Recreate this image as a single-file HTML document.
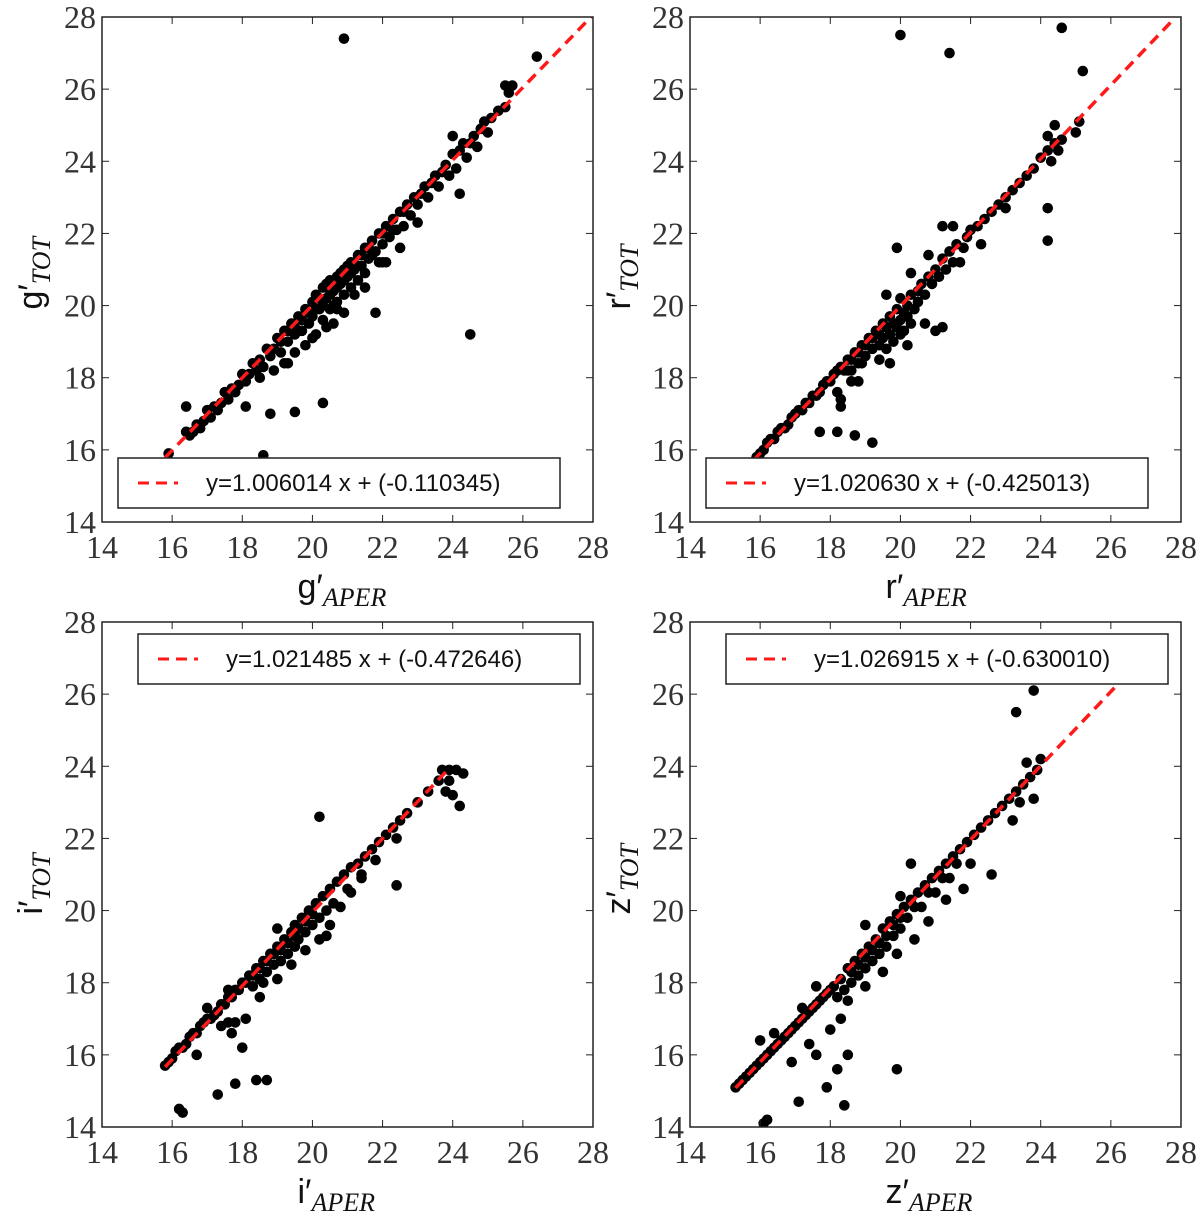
<!DOCTYPE html>
<html><head><meta charset="utf-8"><style>
body{margin:0;background:#fff;}
</style></head><body>
<svg id="fig" width="1200" height="1218" xmlns="http://www.w3.org/2000/svg"></svg>
<script>
// ---- data ----
const xTicks=[14,16,18,20,22,24,26,28];
const yTicks=[14,16,18,20,22,24,26,28];
const fitG=[1.006014,-0.110345], fitR=[1.020630,-0.425013], fitI=[1.021485,-0.472646], fitZ=[1.026915,-0.630010];
const rangeG=[15.8,28.0], rangeR=[15.8,27.8], rangeI=[15.8,23.8], rangeZ=[15.3,26.8];
const labelG="y=1.006014 x + (-0.110345)", labelR="y=1.020630 x + (-0.425013)", labelI="y=1.021485 x + (-0.472646)", labelZ="y=1.026915 x + (-0.630010)";
const gPts=[[15.9,15.9],[16.4,16.5],[16.5,16.4],[16.6,16.5],[16.7,16.7],[16.8,16.6],[16.9,16.8],[17.0,17.1],[17.1,16.9],[17.2,17.2],[17.3,17.1],[17.4,17.3],[17.5,17.6],[17.6,17.4],[17.7,17.7],[17.8,17.6],[17.9,17.8],[18.0,18.1],[18.1,17.9],[18.2,18.1],[18.3,18.4],[18.4,18.2],[18.5,18.5],[18.6,18.3],[18.7,18.8],[18.8,18.6],[18.9,18.8],[19.0,19.1],[19.1,18.7],[19.1,19.0],[19.2,19.3],[19.3,19.0],[19.3,19.3],[19.4,19.5],[19.5,19.2],[19.5,19.4],[19.6,19.7],[19.7,19.3],[19.7,19.6],[19.8,19.9],[19.9,19.5],[19.9,19.8],[20.0,20.1],[20.0,19.7],[20.1,20.3],[20.1,19.9],[20.2,19.9],[20.2,20.2],[20.3,20.5],[20.3,19.6],[20.3,20.0],[20.4,20.2],[20.4,20.6],[20.5,20.7],[20.5,19.9],[20.5,20.3],[20.6,20.4],[20.6,20.0],[20.7,20.8],[20.7,20.1],[20.7,20.5],[20.8,20.6],[20.8,20.9],[20.9,21.0],[20.9,20.3],[20.9,20.7],[21.0,20.8],[21.0,21.1],[21.1,21.2],[21.1,20.5],[21.1,20.9],[21.2,21.0],[21.3,21.4],[21.3,21.1],[21.4,21.1],[21.4,21.4],[21.5,21.6],[21.5,20.9],[21.6,21.3],[21.6,21.6],[21.7,21.8],[21.7,21.4],[21.8,21.5],[21.9,22.0],[21.9,21.2],[22.0,21.7],[22.0,22.0],[22.1,22.2],[22.2,21.9],[22.3,22.4],[22.3,22.1],[22.4,22.1],[22.5,22.6],[22.6,22.2],[22.6,22.6],[22.7,22.8],[22.8,22.5],[22.9,23.0],[23.0,22.8],[23.1,23.1],[23.2,23.3],[23.3,23.0],[23.4,23.4],[23.5,23.6],[23.6,23.3],[23.7,23.7],[23.8,23.9],[23.9,23.6],[24.0,24.2],[24.1,23.8],[24.2,24.3],[24.3,24.5],[24.4,24.1],[24.5,24.5],[24.6,24.7],[24.7,24.4],[24.8,24.9],[24.9,25.1],[25.0,24.8],[25.3,25.4],[25.5,25.5],[25.6,25.9],[18.5,18.0],[18.9,18.2],[19.2,18.4],[19.5,18.7],[19.8,18.9],[20.1,19.2],[20.4,19.4],[20.6,19.5],[20.9,19.8],[21.2,20.3],[21.5,20.5],[21.8,19.8],[22.1,21.2],[22.5,21.6],[23.0,22.3],[17.6,17.4],[18.1,17.2],[18.8,17.0],[19.5,17.05],[20.3,17.3],[18.6,15.85],[16.4,17.2],[20.9,27.4],[26.4,26.9],[24.5,19.2],[24.2,23.1],[25.7,26.1],[25.5,26.1],[25.1,25.2],[24.0,24.7],[19.3,18.4],[20.0,19.1],[20.7,19.9],[21.3,20.7],[22.0,21.2]];
const rPts=[[15.9,15.8],[16.0,15.9],[16.1,16.0],[16.2,16.2],[16.3,16.3],[16.4,16.3],[16.5,16.5],[16.6,16.6],[16.7,16.6],[16.8,16.7],[16.9,16.9],[17.0,17.0],[17.1,17.1],[17.2,17.1],[17.3,17.3],[17.4,17.3],[17.5,17.5],[17.6,17.5],[17.7,17.6],[17.8,17.8],[17.9,17.9],[18.0,17.9],[18.1,18.1],[18.2,18.2],[18.3,18.3],[18.4,18.2],[18.5,18.5],[18.6,18.2],[18.6,18.5],[18.7,18.7],[18.8,18.4],[18.8,18.7],[18.9,18.9],[19.0,18.6],[19.0,18.9],[19.1,19.1],[19.2,18.8],[19.2,19.1],[19.3,19.3],[19.4,18.9],[19.4,19.2],[19.5,19.5],[19.5,19.1],[19.6,18.8],[19.6,19.4],[19.7,19.7],[19.7,19.2],[19.8,19.0],[19.8,19.5],[19.9,19.9],[19.9,19.4],[20.0,19.6],[20.0,20.2],[20.0,19.2],[20.1,19.3],[20.1,19.8],[20.2,20.0],[20.2,19.7],[20.3,20.3],[20.3,19.5],[20.4,19.9],[20.5,20.4],[20.5,20.1],[20.6,20.6],[20.7,20.3],[20.8,20.8],[20.9,20.6],[21.0,21.0],[21.1,20.8],[21.2,21.3],[21.3,21.0],[21.4,21.5],[21.5,21.2],[21.6,21.7],[21.8,21.6],[21.9,21.9],[22.0,22.1],[22.2,22.2],[22.4,22.4],[22.6,22.6],[22.8,22.8],[23.0,23.0],[23.2,23.2],[23.4,23.4],[23.6,23.6],[23.8,23.8],[24.0,24.1],[24.2,24.3],[24.3,24.0],[24.4,24.5],[24.2,24.7],[24.4,25.0],[25.1,25.1],[25.0,24.8],[24.6,24.6],[24.5,24.3],[18.3,17.4],[18.9,18.4],[19.4,18.5],[19.7,18.4],[20.2,18.9],[20.7,19.5],[21.2,19.4],[21.0,19.3],[21.7,21.2],[22.3,21.7],[23.0,22.7],[19.9,21.6],[17.7,16.5],[18.2,16.5],[18.7,16.4],[19.2,16.2],[18.3,17.2],[18.2,17.6],[18.5,18.2],[18.8,17.9],[18.6,17.9],[20.0,27.5],[21.4,27.0],[24.6,27.7],[25.2,26.5],[24.2,22.7],[24.2,21.8],[21.2,22.2],[21.5,22.2],[19.6,20.3],[20.3,20.9],[20.8,21.4]];
const iPts=[[15.8,15.7],[15.9,15.8],[16.0,15.9],[16.1,16.1],[16.2,16.2],[16.3,16.2],[16.4,16.3],[16.5,16.5],[16.6,16.6],[16.7,16.6],[16.8,16.8],[16.9,16.9],[17.0,17.0],[17.1,17.0],[17.2,17.1],[17.3,17.2],[17.4,17.4],[17.5,17.4],[17.6,17.6],[17.7,17.6],[17.8,17.8],[17.9,17.8],[18.0,18.0],[18.1,18.0],[18.2,18.2],[18.3,17.9],[18.3,18.2],[18.4,18.4],[18.5,18.1],[18.5,18.4],[18.6,18.6],[18.7,18.3],[18.7,18.6],[18.8,18.8],[18.9,18.5],[18.9,18.8],[19.0,19.0],[19.1,18.6],[19.1,18.9],[19.2,19.2],[19.3,18.8],[19.3,19.1],[19.4,19.4],[19.5,19.0],[19.5,19.6],[19.5,19.3],[19.6,19.2],[19.6,19.5],[19.7,19.8],[19.8,19.4],[19.8,19.7],[19.9,20.0],[20.0,19.6],[20.0,19.9],[20.1,20.2],[20.2,19.8],[20.3,20.4],[20.4,20.0],[20.5,20.6],[20.6,20.2],[20.7,20.8],[20.9,21.0],[21.0,20.6],[21.1,21.2],[21.3,21.3],[21.4,21.0],[21.5,21.5],[21.7,21.7],[21.9,21.9],[22.1,22.1],[22.3,22.3],[22.5,22.5],[22.7,22.7],[23.0,23.0],[23.3,23.3],[23.6,23.6],[23.7,23.9],[23.9,23.9],[24.1,23.9],[24.3,23.8],[23.9,23.6],[24.0,23.2],[24.2,22.9],[23.8,23.3],[18.6,18.0],[19.0,18.1],[19.4,18.5],[19.8,18.9],[20.2,19.2],[20.4,19.3],[20.5,19.6],[20.8,20.1],[21.1,20.5],[21.4,20.9],[21.8,21.4],[17.0,17.3],[17.6,17.8],[18.5,17.6],[19.0,19.5],[20.2,22.6],[22.4,20.7],[22.4,22.0],[16.3,14.4],[16.2,14.5],[17.3,14.9],[17.8,15.2],[18.4,15.3],[18.7,15.3],[18.0,16.2],[16.7,16.0],[17.4,16.8],[17.7,16.6],[17.8,16.9],[18.1,17.0],[17.6,16.9]];
const zPts=[[15.3,15.1],[15.4,15.2],[15.5,15.3],[15.6,15.4],[15.7,15.5],[15.8,15.6],[15.9,15.7],[16.0,15.8],[16.1,15.9],[16.2,16.0],[16.3,16.1],[16.4,16.2],[16.5,16.3],[16.6,16.4],[16.7,16.5],[16.8,16.6],[16.9,16.7],[17.0,16.8],[17.1,16.9],[17.2,17.0],[17.3,17.1],[17.4,17.2],[17.5,17.3],[17.6,17.4],[17.7,17.5],[17.8,17.6],[17.9,17.7],[18.0,17.8],[18.1,17.9],[18.2,17.6],[18.3,18.1],[18.4,17.8],[18.5,18.4],[18.6,18.0],[18.6,18.3],[18.7,18.6],[18.8,18.2],[18.8,18.5],[18.9,18.8],[19.0,18.4],[19.0,18.7],[19.1,19.0],[19.2,18.6],[19.2,18.9],[19.3,19.2],[19.4,18.8],[19.4,19.1],[19.5,19.5],[19.6,19.0],[19.6,19.3],[19.7,19.7],[19.8,19.3],[19.8,19.6],[19.9,19.9],[20.0,19.5],[20.0,19.8],[20.1,20.1],[20.2,19.8],[20.3,20.3],[20.4,20.1],[20.5,20.5],[20.6,20.1],[20.7,20.7],[20.8,20.5],[20.9,20.9],[21.0,20.5],[21.1,21.1],[21.2,20.9],[21.3,21.3],[21.4,20.9],[21.5,21.5],[21.6,21.3],[21.7,21.7],[21.9,21.9],[22.1,22.1],[22.3,22.3],[22.5,22.5],[22.7,22.7],[22.9,22.9],[23.1,23.1],[23.3,23.3],[23.5,23.5],[23.7,23.7],[23.9,23.9],[23.6,24.1],[23.8,23.1],[23.4,23.0],[23.2,22.5],[24.0,24.2],[18.5,17.5],[19.0,17.9],[19.5,18.3],[19.9,18.8],[20.4,19.2],[20.8,19.7],[21.3,20.3],[21.8,20.6],[22.6,21.0],[22.0,21.3],[17.6,17.9],[19.0,19.6],[20.0,20.4],[20.3,21.3],[23.3,25.5],[23.8,26.1],[16.2,14.2],[16.1,14.1],[17.1,14.7],[17.9,15.1],[18.4,14.6],[18.2,15.6],[18.5,16.0],[17.4,16.3],[16.4,16.6],[16.0,16.4],[19.9,15.6],[16.9,15.8],[17.6,16.0],[18.0,16.7],[18.3,17.0],[17.2,17.3]];
// ---- layout ----
const NS="http://www.w3.org/2000/svg";
const fig=document.getElementById('fig');
const SERIF='font-family:"Liberation Serif","DejaVu Serif",serif';
const SANS='font-family:"Liberation Sans",sans-serif';
function mk(tag,attrs,parent,text){const e=document.createElementNS(NS,tag);for(const k in attrs)e.setAttribute(k,attrs[k]);if(text!==undefined)e.textContent=text;(parent||fig).appendChild(e);return e;}
const panels=[
 {key:'g',L:102,R:593,T:17,B:522,pts:gPts,fit:fitG,rng:rangeG,lab:labelG,leg:[118,458,442,50],pre:'g'},
 {key:'r',L:690,R:1181,T:17,B:522,pts:rPts,fit:fitR,rng:rangeR,lab:labelR,leg:[706,458,442,50],pre:'r'},
 {key:'i',L:102,R:593,T:622,B:1127,pts:iPts,fit:fitI,rng:rangeI,lab:labelI,leg:[138,634,442,50],pre:'i'},
 {key:'z',L:690,R:1181,T:622,B:1127,pts:zPts,fit:fitZ,rng:rangeZ,lab:labelZ,leg:[726,634,442,50],pre:'z'}];
panels.forEach(p=>{
 const sx=v=>p.L+(v-14)/14*(p.R-p.L);
 const sy=v=>p.B-(v-14)/14*(p.B-p.T);
 const g=mk('g',{});
 
 
 const clip=mk('clipPath',{id:'c'+p.key},g);mk('rect',{x:p.L,y:p.T,width:p.R-p.L,height:p.B-p.T},clip);
 const pg=mk('g',{'clip-path':'url(#c'+p.key+')'},g);
 p.pts.forEach(d=>{const c=mk('circle',{cx:sx(d[0]),cy:sy(d[1]),r:5.3,fill:'#000'},pg);
  
  });
 const fl=mk('line',{x1:sx(p.rng[0]),y1:sy(p.fit[0]*p.rng[0]+p.fit[1]),x2:sx(p.rng[1]),y2:sy(p.fit[0]*p.rng[1]+p.fit[1]),stroke:'#ff1a1a','stroke-width':3.5,'stroke-dasharray':'11,7'},pg);
 
 
 mk('rect',{x:p.L,y:p.T,width:p.R-p.L,height:p.B-p.T,fill:'none',stroke:'#222','stroke-width':1.5},g);
 xTicks.forEach(t=>{const x=sx(t);
  mk('line',{x1:x,y1:p.B,x2:x,y2:p.B-7,stroke:'#222'},g);mk('line',{x1:x,y1:p.T,x2:x,y2:p.T+7,stroke:'#222'},g);
  const tl=mk('text',{x:x,y:p.B+36,'text-anchor':'middle','font-size':32,fill:'#333',style:SERIF},g,String(t));
  
  });
 yTicks.forEach(t=>{const y=sy(t);
  mk('line',{x1:p.L,y1:y,x2:p.L+7,y2:y,stroke:'#222'},g);mk('line',{x1:p.R,y1:y,x2:p.R-7,y2:y,stroke:'#222'},g);
  const tl=mk('text',{x:p.L-6,y:y+11,'text-anchor':'end','font-size':32,fill:'#333',style:SERIF},g,String(t));
  
  });
 const [lx,ly,lw,lh]=p.leg;
 const lg=mk('g',{},g);
 
 
 mk('rect',{x:lx,y:ly,width:lw,height:lh,fill:'#fff',stroke:'#222','stroke-width':1.5},lg);
 mk('line',{x1:lx+20,y1:ly+25,x2:lx+60,y2:ly+25,stroke:'#ff1a1a','stroke-width':3,'stroke-dasharray':'11,7'},lg);
 mk('text',{x:lx+88,y:ly+33,'font-size':24,fill:'#111',style:SANS},lg,p.lab);
 const cx=(p.L+p.R)/2;
 const xl=mk('text',{x:cx-50,y:p.B+76,'font-size':34,fill:'#111',style:SANS},g);
 
 
 mk('tspan',{},xl,p.pre+'′');
 mk('tspan',{'font-style':'italic','font-size':26,dy:8,style:SERIF},xl,'APER');
 const cy=(p.T+p.B)/2;
 const yl=mk('text',{x:0,y:0,'font-size':34,fill:'#111',style:SANS,transform:'translate('+(p.L-60)+','+(cy+40)+') rotate(-90)'},g);
 
 
 mk('tspan',{},yl,p.pre+'′');
 mk('tspan',{'font-style':'italic','font-size':26,dy:8,style:SERIF},yl,'TOT');
});
</script>
</body></html>
